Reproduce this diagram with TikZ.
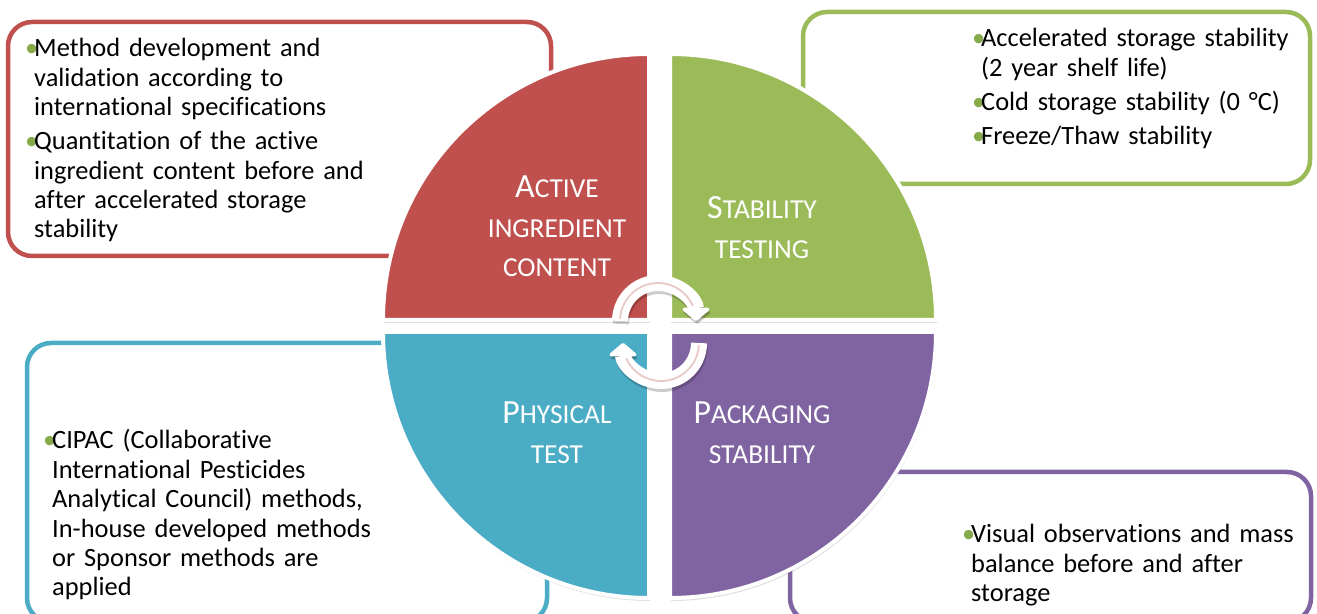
\documentclass[tikz,border=0pt]{standalone}
\usepackage{fontspec}
\setmainfont{Carlito}[Ligatures=NoCommon]
\usetikzlibrary{arrows.meta}
\usetikzlibrary{shadows}
\definecolor{qred}{HTML}{C0504D}
\definecolor{qgreen}{HTML}{9BBB59}
\definecolor{qblue}{HTML}{4BACC6}
\definecolor{qpurple}{HTML}{8064A2}
\definecolor{bulgreen}{HTML}{86A94A}
\definecolor{cycpink}{HTML}{E8C9C8}
\newcommand\bitem{\hangindent=9bp\hangafter=1\makebox[9bp][l]{\textcolor{bulgreen}{\textbullet}}}
\newcommand\capfirst[1]{{\fontsize{34}{39.5}\selectfont #1}}

\begin{document}
\begin{tikzpicture}[>=latex,line join=round,
  box/.style={draw,line width=4.5bp,rounded corners=24bp,fill=white},
  quad/.style={draw=white,line width=4bp,drop shadow={opacity=.25,shadow xshift=1bp,shadow yshift=-3bp}},
  qlabel/.style={anchor=base,inner sep=0pt,text width=200bp,align=center,text=white,font=\fontsize{27.5}{39.5}\selectfont},
  body/.style={anchor=base west,inner sep=0pt,align=left,font=\fontsize{26.5}{29.5}\selectfont},
  cycbody/.style={line width=16bp,-{Triangle[length=14bp,width=32bp,round]}},
  cycline/.style={cycpink,line width=1.8bp,line cap=round}]
\useasboundingbox (0bp,0bp) rectangle (1317bp,614bp);
%%
\draw [box,draw=qred] (8bp,358bp) rectangle (551bp,592bp);
\draw [box,draw=qgreen] (803bp,430bp) rectangle (1310bp,602bp);
\draw [box,draw=qblue] (27bp,-8bp) rectangle (547bp,271bp);
\draw [box,draw=qpurple] (790bp,-8bp) rectangle (1311bp,142bp);
%
\fill [quad,fill=qred] (649bp,294bp) -- (383bp,294bp) arc[start angle=180,end angle=90,radius=266bp] -- cycle;
\fill [quad,fill=qgreen] (670bp,294bp) -- (670bp,560bp) arc[start angle=90,end angle=0,radius=266bp] -- cycle;
\fill [quad,fill=qpurple] (670bp,282bp) -- (936bp,282bp) arc[start angle=0,end angle=-90,radius=266bp] -- cycle;
\fill [quad,fill=qblue] (649bp,282bp) -- (649bp,16bp) arc[start angle=270,end angle=180,radius=266bp] -- cycle;
%
\node (label_0) at (557bp,416bp) [qlabel] {\capfirst{A}CTIVE\\INGREDIENT\\CONTENT};
\node (label_1) at (762bp,395bp) [qlabel] {\capfirst{S}TABILITY\\TESTING};
\node (label_2) at (557bp,190bp) [qlabel] {\capfirst{P}HYSICAL\\TEST};
\node (label_3) at (762bp,190bp) [qlabel] {\capfirst{P}ACKAGING\\STABILITY};
%
\node (text_0) at (25bp,557bp) [body,text width=380bp] {\bitem Method development and\newline validation according to\newline international specifications\par\vspace{4.5bp}\bitem Quantitation of the active\newline ingredient content before and\newline after accelerated storage\newline stability\par};
\node (text_1) at (972bp,567bp) [body,text width=340bp] {\bitem Accelerated storage stability\newline (2 year shelf life)\par\vspace{4.5bp}\bitem Cold storage stability (0 °C)\par\vspace{4.5bp}\bitem Freeze/Thaw stability\par};
\node (text_2) at (43bp,165bp) [body,text width=360bp] {\bitem CIPAC (Collaborative\newline International Pesticides\newline Analytical Council) methods,\newline In-house developed methods\newline or Sponsor methods are\newline applied\par};
\node (text_3) at (962bp,71bp) [body,text width=345bp] {\bitem Visual observations and mass\newline balance before and after\newline storage\par};
%
\coordinate (cyc_0) at (658bp,293bp);
\coordinate (cyc_1) at (661bp,271bp);
\draw [cycbody,black,opacity=.2,transform canvas={xshift=1bp,yshift=-3bp}] (cyc_0) ++(180:38bp) arc[start angle=180,end angle=0,radius=38bp];
\draw [cycbody,black,opacity=.2,transform canvas={xshift=1bp,yshift=-3bp}] (cyc_1) ++(0:38bp) arc[start angle=0,end angle=-180,radius=38bp];
\draw [cycbody,white] (cyc_0) ++(180:38bp) arc[start angle=180,end angle=0,radius=38bp];
\draw [cycbody,white] (cyc_1) ++(0:38bp) arc[start angle=0,end angle=-180,radius=38bp];
\draw [cycline] (cyc_0) ++(176:38bp) arc[start angle=176,end angle=24,radius=38bp];
\draw [cycline] (cyc_1) ++(-4:38bp) arc[start angle=-4,end angle=-156,radius=38bp];
%
\end{tikzpicture}
\end{document}
